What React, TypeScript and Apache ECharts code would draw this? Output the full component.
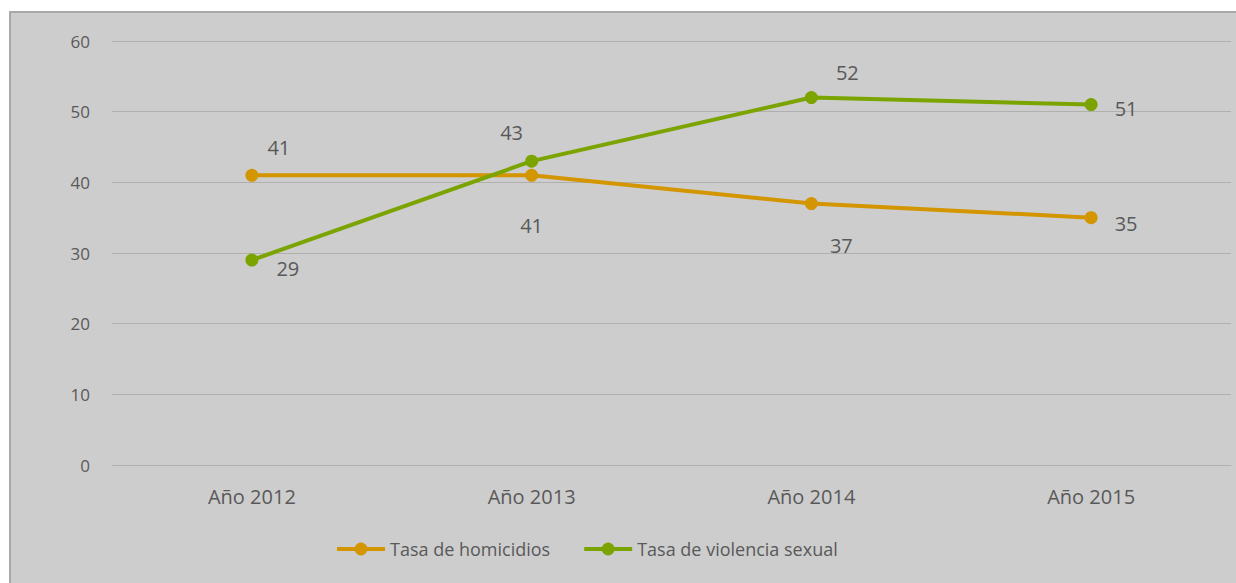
import React, { useEffect, useRef } from "react";
import * as echarts from "echarts";

const categories = ["Año 2012", "Año 2013", "Año 2014", "Año 2015"];
const homicidios = [41, 41, 37, 35];
const violencia = [29, 43, 52, 51];
const homLabelOffsets = [[27, -28], [0, 50], [30, 42], [35, 6]];
const violLabelOffsets = [[36, 8], [-20, -29], [36, -25], [35, 4]];
const yTicks = { min: 0, max: 60, interval: 10 };

const FONT = "'Open Sans', 'Noto Sans', sans-serif";
const TEXT = "#595959";

export default function App() {
  const ref = useRef<HTMLDivElement>(null);
  useEffect(() => {
    document.body.style.margin = "0";
    const chart = echarts.init(ref.current!, undefined, { renderer: "svg" });
    const mkData = (vals: number[], offs: number[][]) =>
      vals.map((v, i) => ({
        value: v,
        label: { position: "inside", offset: offs[i] },
      }));
    chart.setOption({
      animation: false,
      textStyle: { fontFamily: FONT },
      grid: { left: 112, right: 5, top: 41, bottom: 118 },
      legend: {
        left: 335,
        top: 540,
        padding: 0,
        itemWidth: 48,
        itemHeight: 16,
        itemGap: 32,
        lineStyle: { width: 4 },
        textStyle: { fontSize: 18, color: TEXT, fontFamily: FONT },
        data: ["Tasa de homicidios", "Tasa de violencia sexual"],
      },
      xAxis: {
        type: "category",
        data: categories,
        boundaryGap: true,
        axisLine: { lineStyle: { color: "#b0b0b0", width: 1 } },
        axisTick: { show: false },
        axisLabel: { color: TEXT, fontSize: 20, margin: 21, fontFamily: FONT },
      },
      yAxis: {
        type: "value",
        min: yTicks.min,
        max: yTicks.max,
        interval: yTicks.interval,
        axisLine: { show: false },
        axisTick: { show: false },
        splitLine: { lineStyle: { color: "#b0b0b0", width: 1 } },
        axisLabel: { color: TEXT, fontSize: 17, margin: 22, fontFamily: FONT },
      },
      series: [
        {
          name: "Tasa de homicidios",
          type: "line",
          data: mkData(homicidios, homLabelOffsets),
          color: "#d39500",
          lineStyle: { width: 4, color: "#d39500" },
          itemStyle: { color: "#d39500" },
          symbol: "circle",
          symbolSize: 13,
          label: { show: true, color: TEXT, fontSize: 20, fontFamily: FONT },
        },
        {
          name: "Tasa de violencia sexual",
          type: "line",
          data: mkData(violencia, violLabelOffsets),
          color: "#7ba400",
          lineStyle: { width: 4, color: "#7ba400" },
          itemStyle: { color: "#7ba400" },
          symbol: "circle",
          symbolSize: 13,
          label: { show: true, color: TEXT, fontSize: 20, fontFamily: FONT },
        },
      ],
    });
    return () => chart.dispose();
  }, []);
  return (
    <div style={{ position: "relative", width: 1236, height: 583, background: "#ffffff", overflow: "hidden" }}>
      <div
        style={{
          position: "absolute",
          left: 9,
          top: 11,
          width: 1240,
          height: 590,
          background: "#cdcdcd",
          borderLeft: "2px solid #a9a9a9",
          borderTop: "2px solid #a9a9a9",
        }}
      />
      <div ref={ref} style={{ position: "absolute", left: 0, top: 0, width: 1236, height: 583 }} />
    </div>
  );
}
